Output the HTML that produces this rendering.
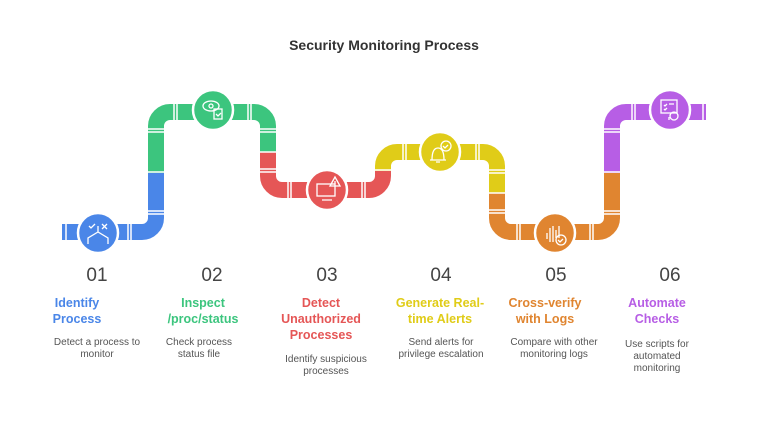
<!DOCTYPE html>
<html><head><meta charset="utf-8"><style>
html,body{margin:0;padding:0;background:#fff;}
svg{display:block;font-family:"Liberation Sans",sans-serif;}
</style></head><body>
<svg width="768" height="426" viewBox="0 0 768 426">
<text x="384" y="50" text-anchor="middle" font-size="14" font-weight="bold" fill="#333">Security Monitoring Process</text>
<g fill="none" stroke-width="16">
<path d="M62 232 H142 A14 14 0 0 0 156 218 V172" stroke="#4a86e8"/>
<path d="M156 173 V126 A14 14 0 0 1 170 112 H254 A14 14 0 0 1 268 126 V153" stroke="#3cc57e"/>
<path d="M268 152 V176 A14 14 0 0 0 282 190 H369 A14 14 0 0 0 383 176 V170" stroke="#e55656"/>
<path d="M383 171 V166 A14 14 0 0 1 397 152 H483 A14 14 0 0 1 497 166 V194" stroke="#e0cc18"/>
<path d="M497 193 V218 A14 14 0 0 0 511 232 H598 A14 14 0 0 0 612 218 V172" stroke="#e08530"/>
<path d="M612 173 V126 A14 14 0 0 1 626 112 H706" stroke="#b75ee5"/>
</g>
<g stroke="#fff" stroke-width="1.5">
<!-- horizontal flanges (vertical lines) -->
<line x1="66" y1="222" x2="66" y2="242"/><line x1="128" y1="222" x2="128" y2="242"/><line x1="131" y1="222" x2="131" y2="242"/>
<line x1="174" y1="102" x2="174" y2="122"/><line x1="177" y1="102" x2="177" y2="122"/><line x1="248" y1="102" x2="248" y2="122"/><line x1="251" y1="102" x2="251" y2="122"/>
<line x1="288" y1="180" x2="288" y2="200"/><line x1="291" y1="180" x2="291" y2="200"/><line x1="362" y1="180" x2="362" y2="200"/><line x1="365" y1="180" x2="365" y2="200"/>
<line x1="403" y1="142" x2="403" y2="162"/><line x1="406" y1="142" x2="406" y2="162"/><line x1="476" y1="142" x2="476" y2="162"/><line x1="479" y1="142" x2="479" y2="162"/>
<line x1="517" y1="222" x2="517" y2="242"/><line x1="520" y1="222" x2="520" y2="242"/><line x1="590" y1="222" x2="590" y2="242"/><line x1="593" y1="222" x2="593" y2="242"/>
<line x1="632" y1="102" x2="632" y2="122"/><line x1="635" y1="102" x2="635" y2="122"/><line x1="703" y1="102" x2="703" y2="122"/>
<!-- vertical flanges -->
<line x1="146" y1="211" x2="166" y2="211"/><line x1="146" y1="214" x2="166" y2="214"/><line x1="146" y1="172" x2="166" y2="172"/>
<line x1="146" y1="129" x2="166" y2="129"/><line x1="146" y1="132" x2="166" y2="132"/>
<line x1="258" y1="129" x2="278" y2="129"/><line x1="258" y1="132" x2="278" y2="132"/><line x1="258" y1="152" x2="278" y2="152"/>
<line x1="258" y1="169" x2="278" y2="169"/><line x1="258" y1="172" x2="278" y2="172"/>
<line x1="373" y1="170" x2="393" y2="170"/>
<line x1="487" y1="170" x2="507" y2="170"/><line x1="487" y1="173" x2="507" y2="173"/><line x1="487" y1="193" x2="507" y2="193"/>
<line x1="487" y1="210" x2="507" y2="210"/><line x1="487" y1="213" x2="507" y2="213"/>
<line x1="602" y1="211" x2="622" y2="211"/><line x1="602" y1="214" x2="622" y2="214"/><line x1="602" y1="172" x2="622" y2="172"/>
<line x1="602" y1="129" x2="622" y2="129"/><line x1="602" y1="132" x2="622" y2="132"/>
</g>
<g stroke="#fff" stroke-width="2.5">
<circle cx="98" cy="233" r="20" fill="#4a86e8"/>
<circle cx="213" cy="110" r="20" fill="#3cc57e"/>
<circle cx="327" cy="190" r="20" fill="#e55656"/>
<circle cx="440" cy="152" r="20" fill="#e0cc18"/>
<circle cx="555" cy="233" r="20" fill="#e08530"/>
<circle cx="670" cy="110" r="20" fill="#b75ee5"/>
</g>
<g fill="none" stroke="#fff" stroke-width="1.3">
<path d="M88 244 V238 L98 232 L108 238 V244 M98 226 V232 M89 226 l2 2 4 -4 M102 224 l5 5 M107 224 l-5 5"/>
<ellipse cx="211" cy="106" rx="8" ry="5"/><circle cx="211" cy="106" r="2"/><rect x="214" y="109" width="8" height="10"/><path d="M216 114 l2 2 3 -3"/>
<rect x="317" y="184" width="18" height="12"/><path d="M322 200 h10 M330 186 l5 -9 5 9 z M335 181 v3"/>
<path d="M432 160 c0 -8 2 -12 6 -12 s6 4 6 12 M430 160 h16 M436 162 h4"/><circle cx="446" cy="146" r="5"/><path d="M443 146 l2 2 3 -3"/>
<path d="M547 233 v6 M550 228 v14 M553 226 v16 M556 230 v8 M559 226 v12"/><circle cx="561" cy="240" r="5"/><path d="M558 240 l2 2 3 -3"/>
<rect x="661" y="100" width="16" height="13"/><path d="M664 105 l1 1 2 -2 M664 109 l1 1 2 -2 M669 104 h5 M669 117 v3"/><circle cx="674" cy="116" r="4"/>
</g>
<g font-size="19" fill="#444" text-anchor="middle">
<text x="97" y="281">01</text><text x="212" y="281">02</text><text x="327" y="281">03</text>
<text x="441" y="281">04</text><text x="556" y="281">05</text><text x="670" y="281">06</text>
</g>
<g font-size="12.5" font-weight="bold" text-anchor="middle">
<text x="77" y="307" fill="#4a86e8">Identify</text><text x="77" y="323" fill="#4a86e8">Process</text>
<text x="203" y="307" fill="#3cc57e">Inspect</text><text x="203" y="323" fill="#3cc57e">/proc/status</text>
<text x="321" y="307" fill="#e55656">Detect</text><text x="321" y="323" fill="#e55656">Unauthorized</text><text x="321" y="339" fill="#e55656">Processes</text>
<text x="440" y="307" fill="#e0cc18">Generate Real-</text><text x="440" y="323" fill="#e0cc18">time Alerts</text>
<text x="545" y="307" fill="#e08530">Cross-verify</text><text x="545" y="323" fill="#e08530">with Logs</text>
<text x="657" y="307" fill="#b75ee5">Automate</text><text x="657" y="323" fill="#b75ee5">Checks</text>
</g>
<g font-size="10" fill="#555" text-anchor="middle">
<text x="97" y="345">Detect a process to</text><text x="97" y="357">monitor</text>
<text x="199" y="345">Check process</text><text x="199" y="357">status file</text>
<text x="326" y="362">Identify suspicious</text><text x="326" y="374">processes</text>
<text x="441" y="345">Send alerts for</text><text x="441" y="357">privilege escalation</text>
<text x="554" y="345">Compare with other</text><text x="554" y="357">monitoring logs</text>
<text x="657" y="347">Use scripts for</text><text x="657" y="359">automated</text><text x="657" y="371">monitoring</text>
</g>
</svg>
</body></html>
